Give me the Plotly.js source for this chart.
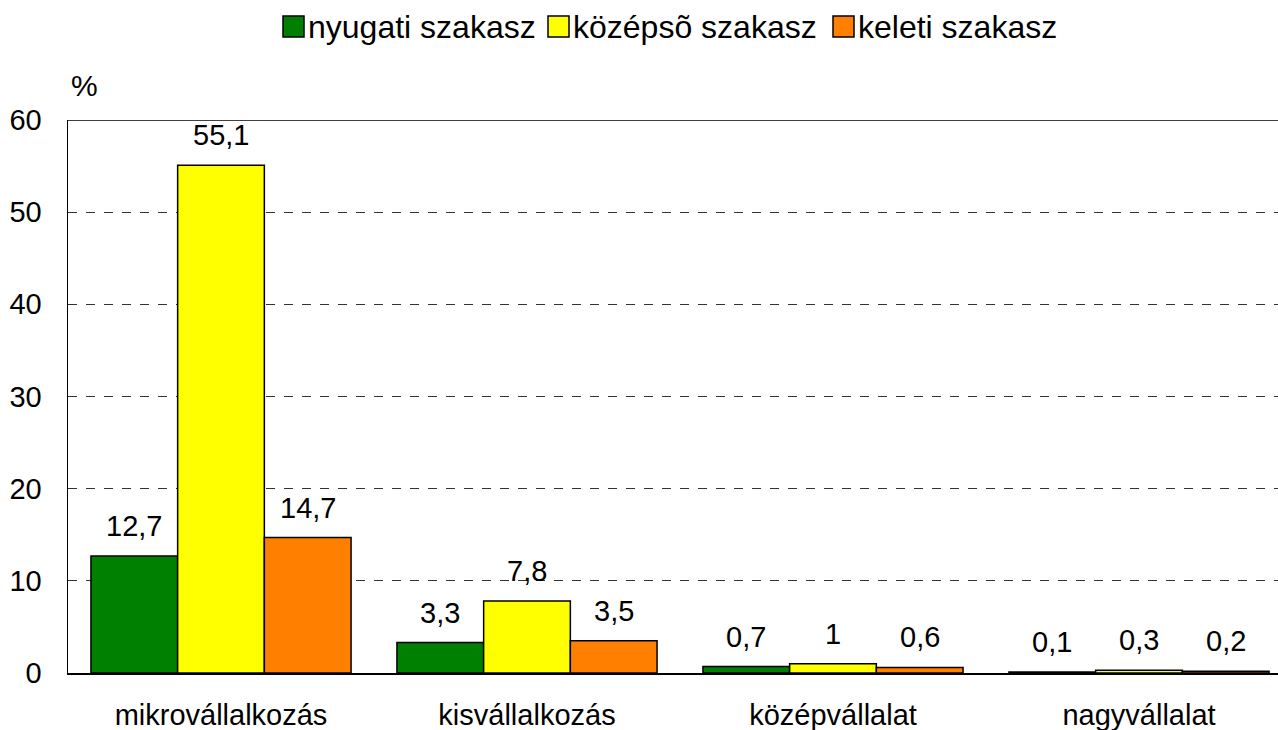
<!DOCTYPE html>
<html>
<head>
<meta charset="utf-8">
<script src="https://cdn.plot.ly/plotly-3.0.1.min.js"></script>
<style>
html,body{margin:0;padding:0;background:#fff;}
#chart{width:1278px;height:730px;}
</style>
</head>
<body>
<div id="chart"></div>
<script>
const categories = ["mikrovállalkozás", "kisvállalkozás", "középvállalat", "nagyvállalat"];
const seriesNames = ["nyugati szakasz", "középsõ szakasz", "keleti szakasz"];
const nyugati = [12.7, 3.3, 0.7, 0.1];
const kozepso = [55.1, 7.8, 1, 0.3];
const keleti = [14.7, 3.5, 0.6, 0.2];
const yTicks = [0, 10, 20, 30, 40, 50, 60];

const FONT = '"Liberation Sans", Arial, sans-serif';
const colors = ["#008000", "#FFFF00", "#FF8000"];
const series = [nyugati, kozepso, keleti];
const fmt = v => String(v).replace('.', ',');

const W = 1278, H = 730;
const M = {l: 68, r: 0, t: 120, b: 57};
const plotW = W - M.l - M.r, plotH = H - M.t - M.b;
const px2x = px => (px - M.l) / plotW;
const py2y = py => (H - M.b - py) / plotH;

const bargap = 0.15;
const groupW = (1 - bargap) / series.length;

const traces = series.map((vals, j) => ({
  type: 'bar',
  name: seriesNames[j],
  x: categories.map((c, i) => i),
  y: vals,
  marker: {color: colors[j], line: {color: '#000', width: 1.5}},
  hoverinfo: 'skip',
  showlegend: false
}));

const annotations = [];
series.forEach((vals, j) => {
  vals.forEach((v, i) => {
    annotations.push({
      x: i + (j - (series.length - 1) / 2) * groupW,
      y: v, xref: 'x', yref: 'y',
      text: fmt(v), showarrow: false,
      yanchor: 'bottom', yshift: 12,
      font: {family: FONT, size: 29, color: '#000'}
    });
  });
});
annotations.push({
  xref: 'paper', yref: 'paper', x: px2x(69), y: py2y(104), xanchor: 'left', yanchor: 'bottom',
  text: '%', showarrow: false,
  font: {family: FONT, size: 30, color: '#000'}
});

// custom legend (large square swatches as in the reference)
const legendSwatchX = [283, 548, 833];
const legendY = 27;
const shapes = [{
  type: 'line', xref: 'paper', yref: 'y', x0: 0, x1: 1, y0: 60, y1: 60,
  line: {color: '#000', width: 1.5}
}];
seriesNames.forEach((name, j) => {
  const sx = legendSwatchX[j];
  shapes.push({
    type: 'rect', xref: 'paper', yref: 'paper',
    x0: px2x(sx), x1: px2x(sx + 21), y0: py2y(legendY - 11), y1: py2y(legendY + 10),
    fillcolor: colors[j], line: {color: '#000', width: 1.5}
  });
  annotations.push({
    xref: 'paper', yref: 'paper', x: px2x(sx + 23), y: py2y(legendY),
    xanchor: 'left', yanchor: 'middle', text: name, showarrow: false,
    font: {family: FONT, size: 32, color: '#000'}
  });
});

const layout = {
  width: W, height: H,
  margin: M,
  paper_bgcolor: '#fff', plot_bgcolor: '#fff',
  barmode: 'group', bargap: bargap, bargroupgap: 0,
  font: {family: FONT, size: 29, color: '#000'},
  showlegend: false,
  xaxis: {
    type: 'linear', range: [-0.5, -0.5 + plotW / 306],
    tickmode: 'array', tickvals: categories.map((c, i) => i), ticktext: categories,
    showgrid: false, zeroline: false,
    showline: true, linecolor: '#000', linewidth: 1.5,
    ticks: '', ticklabelstandoff: 16,
    tickfont: {family: FONT, size: 29, color: '#000'}
  },
  yaxis: {
    range: [0, 60], tickmode: 'array', tickvals: yTicks, ticktext: yTicks.map(String),
    showgrid: true, gridcolor: '#333', gridwidth: 1, griddash: 'dash',
    zeroline: false, showline: true, linecolor: '#000', linewidth: 1.5,
    ticks: '', ticklabelstandoff: 19,
    tickfont: {family: FONT, size: 29, color: '#000'}
  },
  shapes: shapes,
  annotations: annotations
};

Plotly.newPlot('chart', traces, layout, {displayModeBar: false, staticPlot: true});
</script>
</body>
</html>
